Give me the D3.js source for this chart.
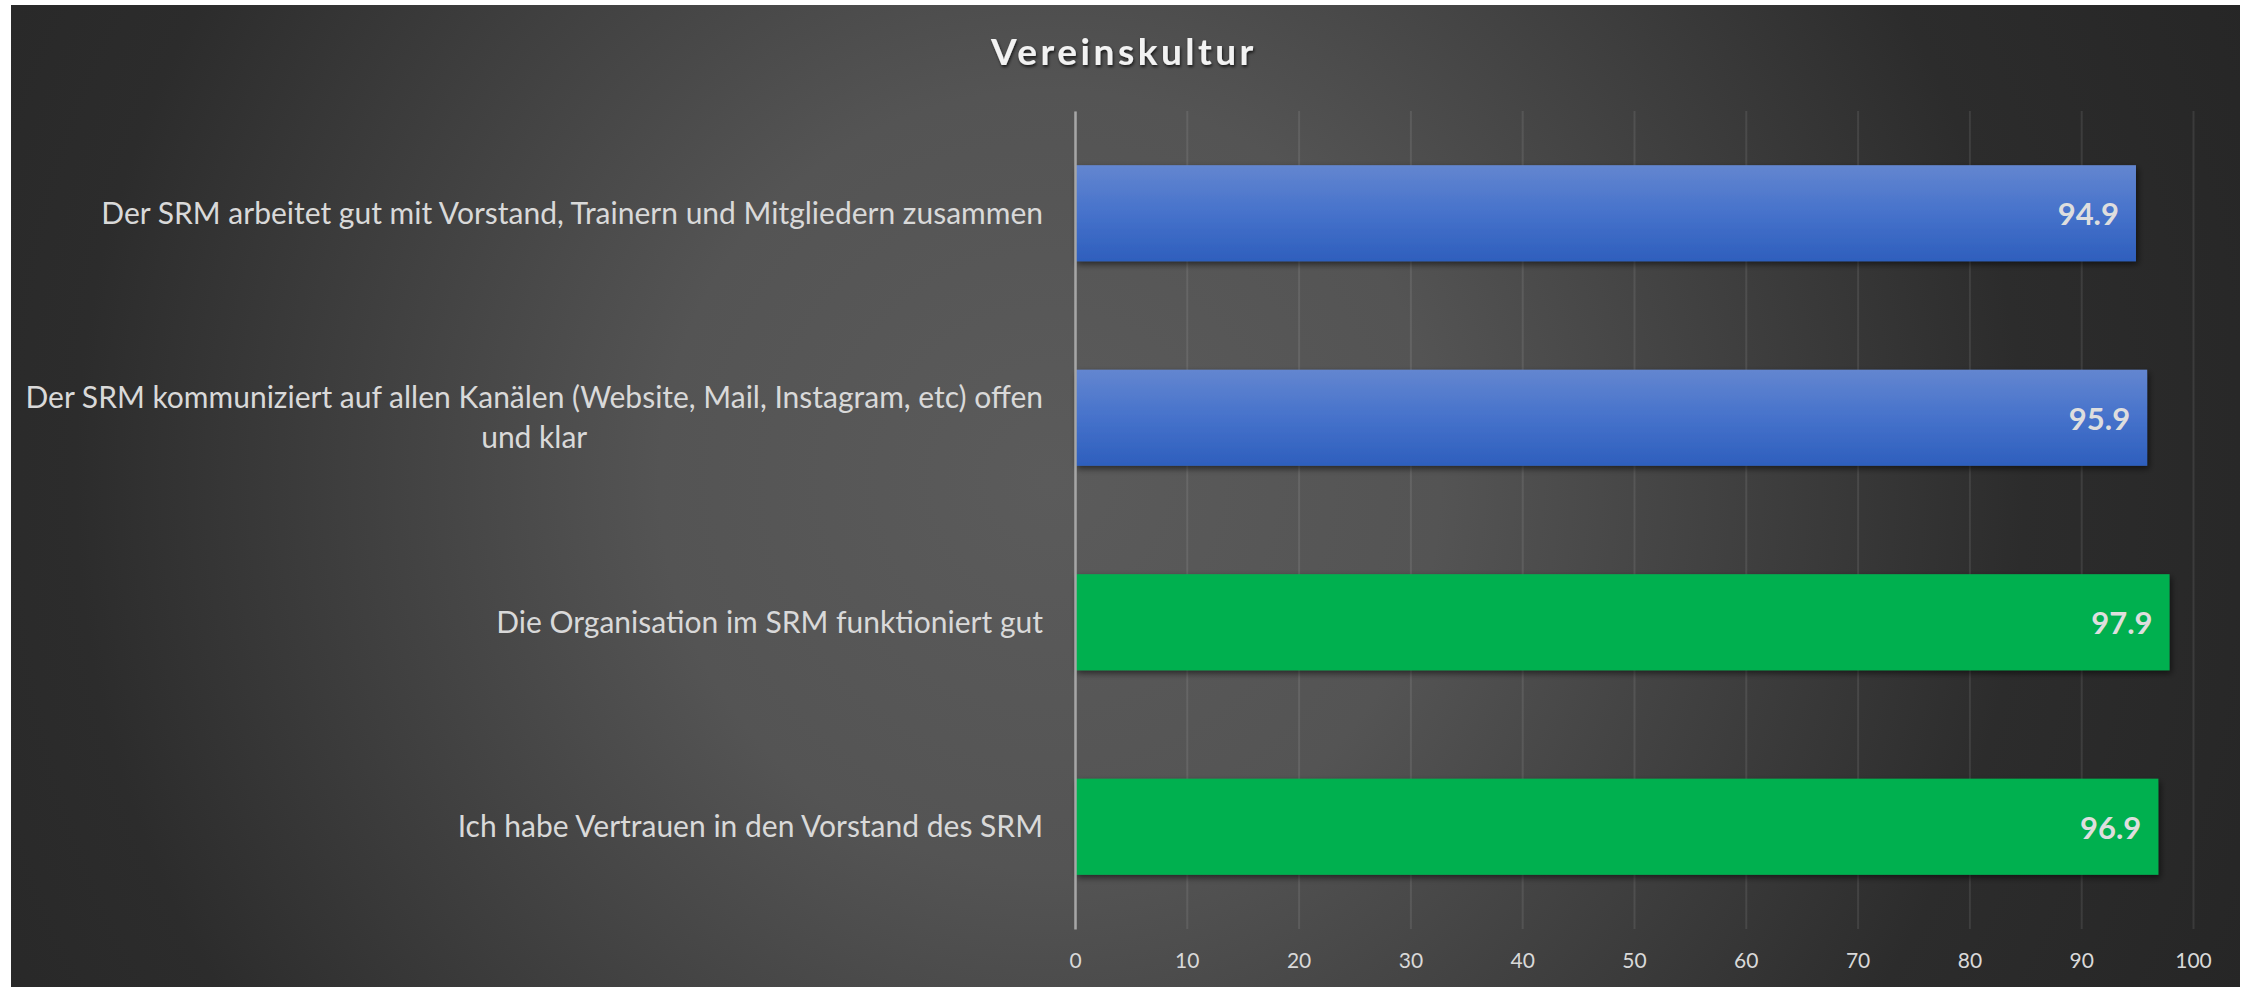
<!DOCTYPE html>
<html>
<head>
<meta charset="utf-8">
<script src="https://cdn.jsdelivr.net/npm/d3@7"></script>
<style>
body { margin:0; background:#ffffff; }
svg { display:block; }
</style>
</head>
<body>
<svg id="graph"></svg>
<script>
var title = "Vereinskultur";

var categories = [
    "Der SRM arbeitet gut mit Vorstand, Trainern und Mitgliedern zusammen",
    "Der SRM kommuniziert auf allen Kanälen (Website, Mail, Instagram, etc) offen\nund klar",
    "Die Organisation im SRM funktioniert gut",
    "Ich habe Vertrauen in den Vorstand des SRM"
];
var values = [94.9, 95.9, 97.9, 96.9];
var barColors = ["blue", "blue", "green", "green"];
var xTicks = [0, 10, 20, 30, 40, 50, 60, 70, 80, 90, 100];

var screen = {width:2247, height:987};
var frame = {left:11, top:5, right:7, bottom:0};
var margins = {top:111, bottom:58, left:1075, right:53};

var svg = d3.select("#graph")
    .attr("width", screen.width)
    .attr("height", screen.height);

var defs = svg.append("defs");

var bg = defs.append("radialGradient")
    .attr("id", "bg")
    .attr("gradientUnits", "userSpaceOnUse")
    .attr("cx", 1050).attr("cy", 480).attr("r", 1300);
bg.append("stop").attr("offset", 0).attr("stop-color", "#5b5b5b");
bg.append("stop").attr("offset", 0.3).attr("stop-color", "#545454");
bg.append("stop").attr("offset", 0.75).attr("stop-color", "#2c2c2c");
bg.append("stop").attr("offset", 1).attr("stop-color", "#262626");

var blue = defs.append("linearGradient")
    .attr("id", "blue")
    .attr("x1", 0).attr("y1", 0).attr("x2", 0).attr("y2", 1);
blue.append("stop").attr("offset", 0).attr("stop-color", "#6386d0");
blue.append("stop").attr("offset", 0.5).attr("stop-color", "#4672cb");
blue.append("stop").attr("offset", 1).attr("stop-color", "#2e5fbd");

defs.append("filter")
    .attr("id", "shadow")
    .attr("x", "-5%").attr("y", "-20%").attr("width", "110%").attr("height", "150%")
    .append("feDropShadow")
    .attr("dx", 2).attr("dy", 3)
    .attr("stdDeviation", 3)
    .attr("flood-color", "#000")
    .attr("flood-opacity", 0.55);

defs.append("filter")
    .attr("id", "tshadow")
    .append("feDropShadow")
    .attr("dx", 1).attr("dy", 2)
    .attr("stdDeviation", 1.5)
    .attr("flood-color", "#000")
    .attr("flood-opacity", 0.7);

svg.append("rect")
    .attr("x", frame.left)
    .attr("y", frame.top)
    .attr("width", screen.width - frame.left - frame.right)
    .attr("height", screen.height - frame.top - frame.bottom)
    .attr("fill", "url(#bg)");

var xScale = d3.scaleLinear()
    .domain([0, 100])
    .range([margins.left, screen.width - margins.right - 1]);

var yScale = d3.scaleBand()
    .domain(categories)
    .range([margins.top, screen.height - margins.bottom])
    .paddingInner(0.53)
    .paddingOuter(0.265);

var plotBottom = screen.height - margins.bottom;
var plotHeight = plotBottom - margins.top;

// gridlines
var grid = svg.append("g")
    .attr("transform", "translate(0," + plotBottom + ")")
    .call(d3.axisBottom(xScale).tickValues(xTicks).tickSize(-plotHeight).tickFormat(""));
grid.select(".domain").remove();
grid.selectAll("line")
    .attr("stroke", "#ffffff")
    .attr("stroke-opacity", 0.09)
    .attr("stroke-width", 2);

// tick labels
var xAxis = svg.append("g")
    .attr("transform", "translate(0," + plotBottom + ")")
    .call(d3.axisBottom(xScale).tickValues(xTicks).tickSize(0).tickPadding(0));
xAxis.select(".domain").remove();
xAxis.selectAll("text")
    .attr("y", 32)
    .attr("dy", "0.35em")
    .attr("fill", "#d9d9d9")
    .style("font-family", "Lato")
    .style("font-size", "21px");

// bars
svg.append("g")
    .selectAll("rect")
    .data(values)
    .enter()
    .append("rect")
    .attr("x", xScale(0))
    .attr("y", function(d, i) { return yScale(categories[i]); })
    .attr("width", function(d) { return xScale(d) - xScale(0); })
    .attr("height", yScale.bandwidth())
    .attr("fill", function(d, i) { return barColors[i] == "blue" ? "url(#blue)" : "#00b050"; })
    .attr("filter", "url(#shadow)");

// vertical axis line
var yAxis = svg.append("g")
    .attr("transform", "translate(" + xScale(0) + ",0)")
    .call(d3.axisLeft(yScale).tickSize(0).tickFormat(""));
yAxis.select(".domain")
    .attr("stroke", "#a6a6a6")
    .attr("stroke-width", 2.5);

// value labels
svg.append("g")
    .selectAll("text")
    .data(values)
    .enter()
    .append("text")
    .text(function(d) { return d.toFixed(1); })
    .attr("x", function(d) { return xScale(d) - 17; })
    .attr("y", function(d, i) { return yScale(categories[i]) + yScale.bandwidth() / 2 + 1; })
    .attr("dy", "0.36em")
    .attr("text-anchor", "end")
    .attr("fill", "#dedede")
    .style("font-family", "Lato")
    .style("font-weight", "bold")
    .style("font-size", "31px");

// category labels, lines centred inside a right aligned block
var lineGap = 40;
var labelRight = 1043;
categories.forEach(function(cat) {
    var lines = cat.split("\n");
    var g = svg.append("g");
    var texts = g.selectAll("text")
        .data(lines)
        .enter()
        .append("text")
        .text(function(l) { return l; })
        .attr("fill", "#d9d9d9")
        .style("font-family", "Lato")
        .style("font-size", "30px");
    var widest = 0;
    texts.each(function() {
        widest = Math.max(widest, this.getComputedTextLength());
    });
    var mid = yScale(cat) + yScale.bandwidth() / 2;
    var first = mid - (lines.length - 1) * lineGap / 2;
    texts.attr("text-anchor", "middle")
        .attr("x", labelRight - widest / 2)
        .attr("y", function(l, i) { return first + i * lineGap; })
        .attr("dy", "0.35em");
});

// title
svg.append("text")
    .text(title)
    .attr("x", 1124)
    .attr("y", 65)
    .attr("text-anchor", "middle")
    .attr("fill", "#f2f2f2")
    .attr("filter", "url(#tshadow)")
    .style("font-family", "Lato")
    .style("font-weight", "bold")
    .style("font-size", "37px")
    .style("letter-spacing", "3.5px");
</script>
</body>
</html>
